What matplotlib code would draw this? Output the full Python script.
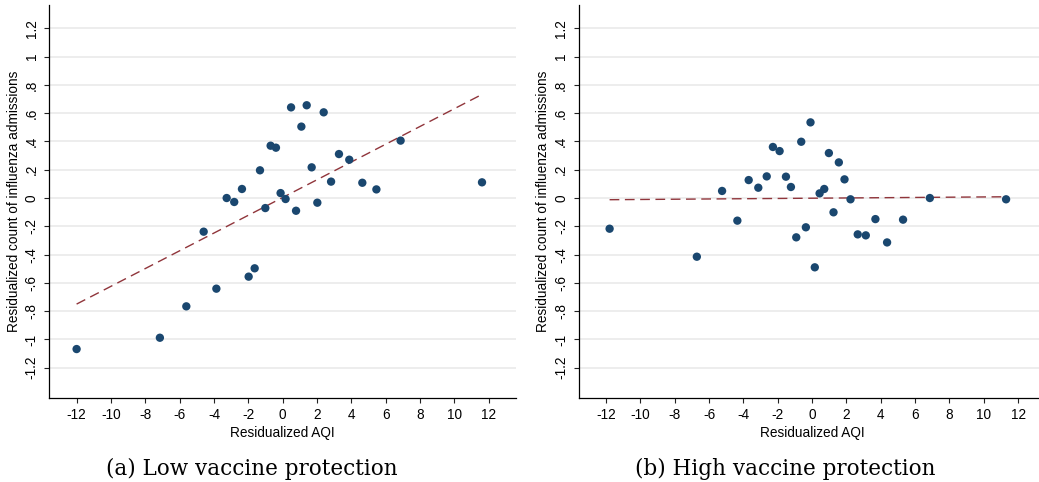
import numpy as np
import matplotlib
matplotlib.use('Agg')
import matplotlib.pyplot as plt
from matplotlib.ticker import FuncFormatter

plt.rcParams['font.family'] = ['Liberation Sans', 'DejaVu Sans']
plt.rcParams['axes.unicode_minus'] = False

# binned residuals, low vaccine protection
low_x = [-12.0, -7.15, -5.61, -4.60, -3.86, -3.26, -2.82, -2.37, -1.98, -1.63,
         -1.32, -1.01, -0.70, -0.39, -0.12, 0.17, 0.49, 0.78, 1.09, 1.40,
         1.69, 2.02, 2.39, 2.82, 3.28, 3.88, 4.64, 5.46, 6.87, 11.61]
low_y = [-1.068, -0.988, -0.766, -0.238, -0.641, 0.0, -0.028, 0.064, -0.556, -0.497,
         0.196, -0.071, 0.370, 0.356, 0.035, -0.007, 0.641, -0.090, 0.505, 0.656,
         0.217, -0.033, 0.606, 0.116, 0.311, 0.271, 0.108, 0.061, 0.406, 0.111]
low_fit = [0.0628, 0.0036]   # slope, intercept

# binned residuals, high vaccine protection
high_x = [-11.79, -6.71, -5.24, -4.35, -3.69, -3.13, -2.64, -2.28, -1.89, -1.52,
          -1.23, -0.92, -0.63, -0.36, -0.09, 0.16, 0.44, 0.71, 0.98, 1.25,
          1.56, 1.89, 2.24, 2.66, 3.13, 3.69, 4.37, 5.30, 6.86, 11.30]
high_y = [-0.217, -0.415, 0.050, -0.160, 0.127, 0.073, 0.153, 0.361, 0.332, 0.151,
          0.078, -0.278, 0.398, -0.207, 0.535, -0.490, 0.033, 0.064, 0.318, -0.101,
          0.252, 0.132, -0.009, -0.257, -0.264, -0.149, -0.314, -0.153, 0.000, -0.009]
high_fit = [0.0009, -0.0013]

captions = ['(a) Low vaccine protection', '(b) High vaccine protection']
x_ticks = list(range(-12, 13, 2))
y_ticks = [-1.2, -1.0, -0.8, -0.6, -0.4, -0.2, 0.0, 0.2, 0.4, 0.6, 0.8, 1.0, 1.2]

W, H = 1039, 482
fig = plt.figure(figsize=(W / 100, H / 100), dpi=100)


def stata_fmt(v, pos):
    s = '%g' % round(v, 2)
    return s.replace('0.', '.')


def draw_panel(left_px, xs, ys, fit, caption, cap_x):
    ax = fig.add_axes([left_px / W, (H - 397.7) / H, 466.7 / W, 392.7 / H])
    ax.set_xlim(-13.59, 13.59)
    ax.set_ylim(-1.412, 1.365)
    for t in y_ticks:
        ax.axhline(t, color='#e8e8e8', lw=1.1, zorder=0)
    x0, x1 = min(xs), max(xs)
    ax.plot([x0, x1], [fit[0] * x0 + fit[1], fit[0] * x1 + fit[1]],
            color='#90353b', lw=1.0, dashes=(7, 4), zorder=2)
    ax.scatter(xs, ys, s=36, color='#1a476f', edgecolors='none', zorder=3)
    ax.set_xticks(x_ticks)
    ax.set_yticks(y_ticks)
    ax.yaxis.set_major_formatter(FuncFormatter(stata_fmt))
    ax.tick_params(length=3.6, width=0.8, pad=4, labelsize=9.8, color='#222222')
    ax.tick_params(axis='y', labelrotation=90)
    for lab in ax.get_yticklabels():
        lab.set_va('center')
    for s in ['top', 'right']:
        ax.spines[s].set_visible(False)
    ax.spines['left'].set_linewidth(0.9)
    ax.spines['bottom'].set_linewidth(0.9)
    ax.set_xlabel('Residualized AQI', fontsize=9.8, labelpad=3)
    ax.set_ylabel('Residualized count of influenza admissions', fontsize=9.8, labelpad=3)
    fig.text(cap_x / W, (H - 475) / H, caption, ha='center', va='baseline',
             fontsize=15.5, family=['DejaVu Serif'])
    return ax


draw_panel(49.3, low_x, low_y, low_fit, captions[0], 252)
draw_panel(578.7, high_x, high_y, high_fit, captions[1], 785)

fig.savefig('out.png', dpi=100)
